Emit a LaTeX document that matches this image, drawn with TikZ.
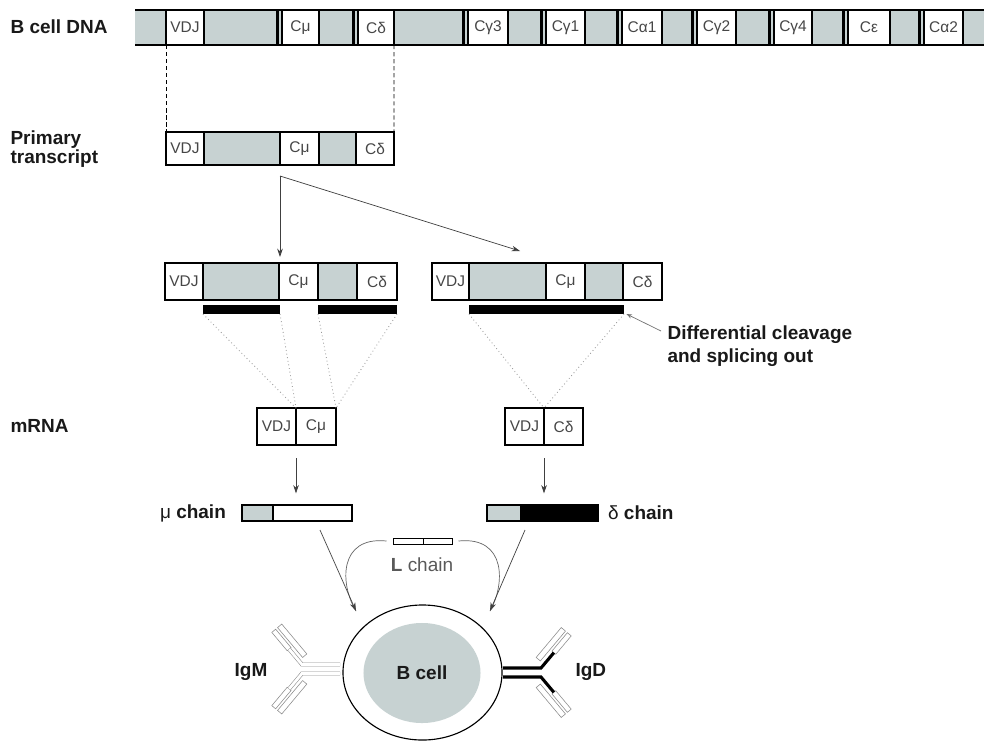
\documentclass[tikz,border=0pt]{standalone}
\usepackage{fontspec}
\setmainfont{Liberation Sans}
\usetikzlibrary{arrows.meta,shapes.geometric}

\definecolor{exgrey}{RGB}{199,210,210}
\definecolor{boxtext}{RGB}{70,70,70}

\tikzset{
  exon/.style={draw, fill=white, inner sep=0pt, outer sep=0pt, text=boxtext,
    font=\fontsize{11}{12}\selectfont},
  cutbar/.style={fill=black, inner sep=0pt, outer sep=0pt, minimum height=0.225cm},
  tag/.style={inner sep=0pt, text=black!90, font=\fontsize{13.5}{14}\selectfont\bfseries},
  splice/.style={draw=black!40, line width=0.6pt, dotted},
  tip/.style={draw=black!75, line width=0.5pt, -{Stealth[length=6pt,width=4pt]}},
  fab/.style={draw=black!45, line width=0.4pt, fill=white},
  % Y shaped antibody, hinge at the origin, tail to the left
  pics/antibody/.style={code={
    \foreach \s/\ang/\ys in {-4.5/50/1, 4.5/-50/-1}{
      \begin{scope}[shift={(0,\s)}, rotate=\ang, yscale=\ys]
        \draw[fab] (20,-2.5) rectangle (44,2.5);
        \draw[fab] (5,-10.5) rectangle (44,-5);
      \end{scope}
    }
    \draw[#1] (-38,-4.5) -- (0,-4.5) -- ++(-50:20);
    \draw[#1] (-38,4.5) -- (0,4.5) -- ++(50:20);
  }}
}

\begin{document}
\begin{tikzpicture}[x=0.025cm, y=-0.025cm, line width=0.8pt]
\useasboundingbox (0,0) rectangle (984,742);
\fill[white] (0,0) rectangle (984,742);

% B cell DNA
\node[tag, anchor=west] (dnalab) at (10,27) {B cell DNA};
\fill[exgrey] (135,10) rectangle (984,45);
\draw (135,10) -- (984,10) (135,45) -- (984,45);
\node[exon, minimum width=0.95cm, minimum height=0.875cm] (dvdj) at (185,27.5) {VDJ};
\foreach \lx/\rx/\lab/\nm in {282/319/Cμ/dmu, 358/394/Cδ/ddelta, 468/508/Cγ3/dgthree,
    546/585/Cγ1/dgone, 622/662/Cα1/daone, 697/736/Cγ2/dgtwo, 774/812/Cγ4/dgfour,
    848/890/Cε/deps, 924/963/Cα2/datwo}{
  \draw[line width=2.2pt] ({\lx-4.5},10) -- ({\lx-4.5},45);
  \node[exon, minimum width={(\rx-\lx)*0.025cm}, minimum height=0.875cm] (\nm)
    at ({(\lx+\rx)/2},27.5) {\lab};
}

% primary transcript
\node[tag, anchor=west, align=left] (ptlab) at (10,149) {Primary\\transcript};
\filldraw[fill=exgrey] (166,132) rectangle (394,165);
\node[exon, minimum width=0.95cm, minimum height=0.825cm] (pvdj) at (185,148.5) {VDJ};
\node[exon, minimum width=0.975cm, minimum height=0.825cm] (pmu) at (299.5,148.5) {Cμ};
\node[exon, minimum width=0.95cm, minimum height=0.825cm] (pdelta) at (375,148.5) {Cδ};
\draw[line width=0.6pt, dash pattern=on 3pt off 2pt] (dvdj.south west) -- (pvdj.north west);
\draw[line width=0.6pt, dash pattern=on 3pt off 2pt] (ddelta.south east) -- (pdelta.north east);

% two ways of cutting the transcript
\filldraw[fill=exgrey] (165,263) rectangle (397,300);
\node[exon, minimum width=0.95cm, minimum height=0.925cm] (lvdj) at (184,281.5) {VDJ};
\node[exon, minimum width=0.975cm, minimum height=0.925cm] (lmu) at (298.5,281.5) {Cμ};
\node[exon, minimum width=1cm, minimum height=0.925cm] (ldelta) at (377,281.5) {Cδ};
\node[cutbar, minimum width=1.925cm] (lcutA) at (241.5,309.5) {};
\node[cutbar, minimum width=1.975cm] (lcutB) at (357.5,309.5) {};

\filldraw[fill=exgrey] (432,263) rectangle (662,300);
\node[exon, minimum width=0.925cm, minimum height=0.925cm] (rvdj) at (450.5,281.5) {VDJ};
\node[exon, minimum width=0.975cm, minimum height=0.925cm] (rmu) at (565.5,281.5) {Cμ};
\node[exon, minimum width=0.975cm, minimum height=0.925cm] (rdelta) at (642.5,281.5) {Cδ};
\node[cutbar, minimum width=3.875cm] (rcut) at (546.5,309.5) {};

\coordinate (fork) at ([yshift=-0.275cm]pmu.south west);
\coordinate (rin) at (520,251);
\draw[tip, shorten >=0.15cm] (fork) -- (fork |- lmu.north);
\draw[tip] (fork) -- (rin);

\node[tag, anchor=west, align=left] (difflab) at (667,346) {Differential cleavage\\[2pt]and splicing out};
\coordinate (difftail) at (661,331);
\draw[draw=black!55, line width=0.5pt, -{Stealth[length=4pt,width=3pt]}] (difftail) -- ([xshift=0.06cm]rcut.south east);

% mRNA
\node[tag, anchor=west] (mrnalab) at (10,426) {mRNA};
\node[exon, minimum width=0.975cm, minimum height=0.925cm] (mvdj) at (276.5,426.5) {VDJ};
\node[exon, minimum width=1cm, minimum height=0.925cm] (mmu) at (316,426.5) {Cμ};
\node[exon, minimum width=0.975cm, minimum height=0.925cm] (nvdj) at (524.5,426.5) {VDJ};
\node[exon, minimum width=0.975cm, minimum height=0.925cm] (ndelta) at (563.5,426.5) {Cδ};

\draw[splice] (lcutA.south west) -- (mvdj.north east);
\draw[splice] (lcutA.south east) -- (mvdj.north east);
\draw[splice] (lcutB.south west) -- (mmu.north east);
\draw[splice] (lcutB.south east) -- (mmu.north east);
\draw[splice] (rcut.south west) -- (nvdj.north east);
\draw[splice] (rcut.south east) -- (nvdj.north east);

% heavy chains
\node[draw, fill=exgrey, inner sep=0pt, minimum width=0.775cm, minimum height=0.4cm] (mugrey) at (257.5,513) {};
\node[draw, fill=white, inner sep=0pt, minimum width=1.975cm, minimum height=0.4cm] (muwhite) at (312.5,513) {};
\node[draw, fill=exgrey, inner sep=0pt, minimum width=0.85cm, minimum height=0.4cm] (delgrey) at (504,513) {};
\node[draw, fill=black, inner sep=0pt, minimum width=1.925cm, minimum height=0.4cm] (delheavy) at (559.5,513) {};
\node[tag, anchor=east] (mulab) at ([xshift=-0.375cm]mugrey.west) {{\mdseries μ} chain};
\node[tag, anchor=west] (dellab) at ([xshift=0.225cm]delheavy.east) {{\mdseries δ} chain};

\draw[tip, shorten <=0.325cm, shorten >=0.275cm] (mvdj.south east) -- (mvdj.south east |- mugrey.north);
\draw[tip, shorten <=0.325cm, shorten >=0.275cm] (nvdj.south east) -- (nvdj.south east |- delgrey.north);

% light chain
\node[draw, inner sep=0pt, line width=0.7pt, minimum width=0.75cm, minimum height=0.15cm] (lleft) at (408,541) {};
\node[draw, inner sep=0pt, line width=0.7pt, minimum width=0.725cm, minimum height=0.15cm] (lright) at (437.5,541) {};
\node[tag, text=black!65] (llab) at (422,565) {L {\mdseries chain}};

% B cell
\node[ellipse, draw, inner sep=0pt, minimum width=3.975cm, minimum height=3.375cm] (cell) at (422.5,672.5) {};
\node[ellipse, tag, fill=exgrey, minimum width=2.925cm, minimum height=2.5cm] (nucleus) at (422,673) {B cell};

\coordinate (mutail) at (320,530);
\coordinate (deltail) at (525,530);
\coordinate (igmin) at (356,611);
\coordinate (igdin) at (490,611);
\draw[draw=black!60, line width=0.5pt] ([xshift=-0.15cm]lleft.west) .. controls (338,536) and (340,585) .. (igmin);
\draw[draw=black!60, line width=0.5pt] ([xshift=0.15cm]lright.east) .. controls (507,536) and (505,585) .. (igdin);
\draw[tip] (mutail) -- (igmin);
\draw[tip] (deltail) -- (igdin);

% surface antibodies
\pic at (541,672.5) {antibody={draw=black, line width=2.2pt}};
\pic[xscale=-1] at (302,669) {antibody={draw=black!45, line width=0.4pt, double=white, double distance=0.07cm}};
\node[tag] (igmlab) at (251,672) {IgM};
\node[tag, anchor=west] (igdlab) at (575,672) {IgD};
\end{tikzpicture}
\end{document}
